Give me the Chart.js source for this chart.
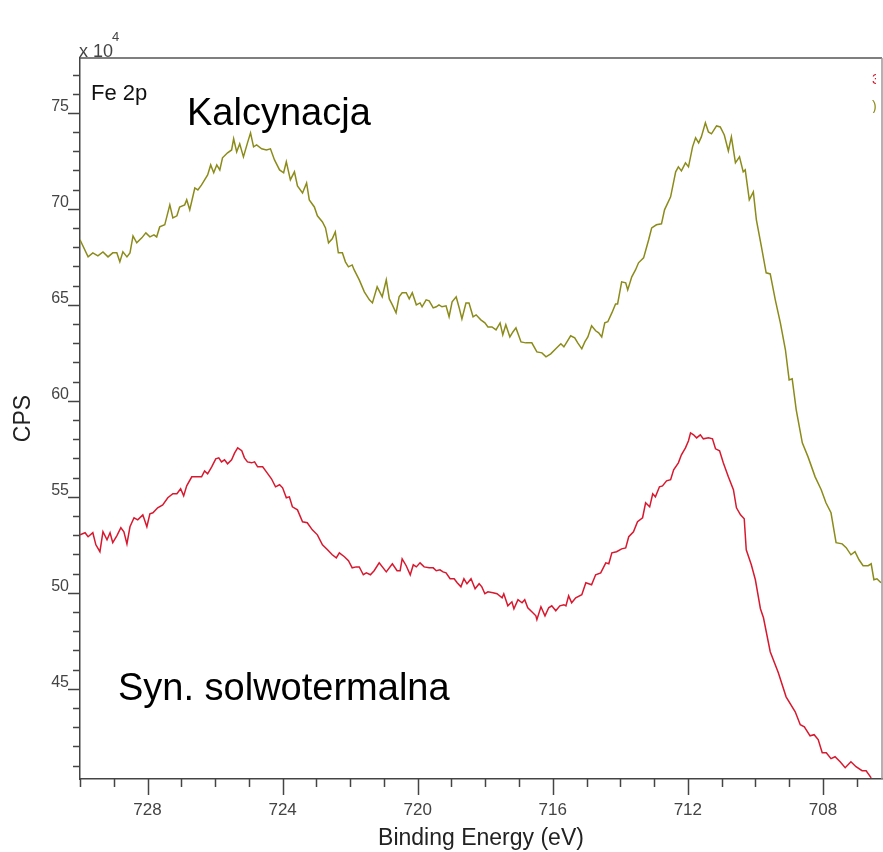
<!DOCTYPE html>
<html>
<head>
<meta charset="utf-8">
<script src="https://cdn.jsdelivr.net/npm/chart.js@4.4.1/dist/chart.umd.min.js"></script>
<style>
  body { margin: 0; background: #fff; }
  #wrap { position: relative; width: 883px; height: 852px; }
  .note { position: absolute; font-family: 'Liberation Sans', Arial, sans-serif; line-height: 1; white-space: nowrap; }
</style>
</head>
<body>
<div id="wrap">
  <canvas id="myChart" width="883" height="852"></canvas>
  <div class="note" style="left:79px;top:42px;font-size:18px;color:#444">x 10</div>
  <div class="note" style="left:112px;top:30px;font-size:13px;color:#444">4</div>
  <div class="note" style="left:91px;top:82px;font-size:22px;color:#111">Fe 2p</div>
  <div class="note" style="left:187px;top:93px;font-size:38px;color:#000">Kalcynacja</div>
  <div class="note" style="left:118px;top:668px;font-size:38px;color:#000">Syn. solwotermalna</div>
  <div class="note" style="left:872px;top:72px;font-size:14px;color:#d8182e;width:4px;overflow:hidden">3</div>
  <div class="note" style="left:872px;top:99px;font-size:14px;color:#8b8b1a;width:4px;overflow:hidden">)</div>
</div>
<script>
// Fe 2p, binding energy (eV) and counts (x 10^4 CPS)
let kalcE = [
  730.00, 729.76, 729.62, 729.47, 729.32, 729.17, 729.03, 728.91, 728.82, 728.73,
  728.61, 728.52, 728.43, 728.32, 728.17, 728.05, 727.93, 727.81, 727.73, 727.64,
  727.49, 727.34, 727.25, 727.13, 727.05, 726.90, 726.84, 726.75, 726.60, 726.51,
  726.40, 726.31, 726.22, 726.13, 726.04, 725.95, 725.86, 725.78, 725.63, 725.51,
  725.45, 725.36, 725.27, 725.16, 725.04, 724.95, 724.86, 724.77, 724.62, 724.48,
  724.36, 724.24, 724.09, 723.97, 723.89, 723.77, 723.65, 723.56, 723.41, 723.29,
  723.21, 723.06, 722.97, 722.82, 722.73, 722.64, 722.53, 722.44, 722.35, 722.23,
  722.14, 722.05, 721.94, 721.88, 721.73, 721.58, 721.43, 721.34, 721.20, 721.05,
  720.93, 720.84, 720.75, 720.64, 720.55, 720.46, 720.34, 720.25, 720.16, 720.04,
  719.93, 719.87, 719.75, 719.66, 719.54, 719.45, 719.37, 719.28, 719.16, 719.07,
  718.98, 718.86, 718.77, 718.69, 718.57, 718.48, 718.36, 718.27, 718.13, 718.01,
  717.92, 717.80, 717.68, 717.56, 717.48, 717.39, 717.27, 717.18, 717.09, 716.94,
  716.80, 716.62, 716.47, 716.32, 716.20, 716.06, 715.91, 715.76, 715.67, 715.58,
  715.47, 715.35, 715.26, 715.14, 715.05, 714.96, 714.85, 714.73, 714.64, 714.55,
  714.46, 714.37, 714.25, 714.14, 714.08, 713.96, 713.84, 713.78, 713.66, 713.55,
  713.46, 713.31, 713.16, 713.07, 712.93, 712.78, 712.69, 712.51, 712.36, 712.28,
  712.19, 712.07, 711.98, 711.86, 711.77, 711.68, 711.60, 711.48, 711.39, 711.30,
  711.15, 711.04, 710.92, 710.80, 710.71, 710.59, 710.47, 710.36, 710.30, 710.18,
  710.06, 709.97, 709.82, 709.68, 709.56, 709.41, 709.26, 709.11, 709.00, 708.91,
  708.79, 708.61, 708.44, 708.23, 708.05, 707.91, 707.76, 707.61, 707.43, 707.31,
  707.17, 707.05, 706.93, 706.81, 706.66, 706.57, 706.49, 706.40, 706.28
];
let kalcCps = [
  68.39, 67.50, 67.71, 67.55, 67.76, 67.50, 67.71, 67.71, 67.24, 67.76,
  67.50, 67.71, 68.59, 68.23, 68.49, 68.75, 68.54, 68.65, 68.54, 69.06,
  69.17, 70.21, 69.53, 69.64, 70.10, 70.21, 70.47, 69.95, 71.09, 70.99,
  71.25, 71.51, 71.77, 72.29, 71.88, 72.29, 72.03, 72.66, 72.92, 73.07,
  73.65, 72.97, 73.39, 72.71, 73.44, 73.96, 73.23, 73.33, 73.13, 73.07,
  73.13, 72.55, 72.03, 71.88, 72.45, 71.51, 71.93, 71.20, 70.83, 71.35,
  70.47, 70.10, 69.64, 69.32, 69.01, 68.23, 68.44, 68.80, 67.71, 67.71,
  67.24, 66.98, 67.08, 66.82, 66.30, 65.68, 65.26, 65.10, 65.94, 65.42,
  66.30, 65.31, 65.00, 64.58, 65.42, 65.63, 65.63, 65.31, 65.63, 65.00,
  65.10, 64.90, 65.26, 65.21, 64.84, 64.90, 65.00, 64.90, 64.95, 64.38,
  65.16, 65.42, 64.84, 64.27, 65.10, 65.10, 64.38, 64.48, 64.22, 64.06,
  63.85, 63.85, 63.70, 64.06, 63.44, 63.96, 63.33, 63.59, 63.80, 63.07,
  63.02, 63.02, 62.55, 62.50, 62.29, 62.45, 62.71, 62.97, 62.81, 63.07,
  63.39, 63.28, 63.02, 62.71, 63.07, 63.33, 63.91, 63.65, 63.54, 63.33,
  64.06, 64.12, 64.58, 65.05, 65.05, 66.20, 66.15, 65.78, 66.46, 66.82,
  67.19, 67.45, 68.39, 69.01, 69.17, 69.22, 69.95, 70.63, 71.93, 72.19,
  71.98, 72.40, 72.19, 73.23, 73.70, 73.44, 73.75, 74.48, 74.01, 73.91,
  74.32, 74.27, 73.85, 73.02, 73.75, 72.40, 72.71, 71.93, 72.03, 70.47,
  70.89, 69.43, 68.02, 66.67, 66.61, 65.26, 64.06, 62.66, 61.09, 61.15,
  59.53, 57.81, 57.08, 56.04, 55.37, 54.69, 54.17, 52.61, 52.55, 52.35,
  51.98, 52.14, 51.72, 51.41, 51.41, 51.51, 50.68, 50.73, 50.52
];

let solwoE = [
  730.00, 729.85, 729.76, 729.62, 729.53, 729.41, 729.32, 729.20, 729.11, 729.03,
  728.91, 728.79, 728.70, 728.61, 728.52, 728.40, 728.29, 728.14, 728.02, 727.93,
  727.84, 727.70, 727.55, 727.40, 727.25, 727.13, 727.02, 726.93, 726.84, 726.69,
  726.54, 726.40, 726.31, 726.22, 726.10, 725.98, 725.89, 725.81, 725.72, 725.63,
  725.51, 725.42, 725.33, 725.21, 725.13, 725.04, 724.92, 724.83, 724.74, 724.59,
  724.48, 724.33, 724.21, 724.09, 724.00, 723.89, 723.80, 723.71, 723.56, 723.41,
  723.27, 723.12, 722.97, 722.82, 722.67, 722.53, 722.41, 722.32, 722.17, 722.05,
  721.94, 721.82, 721.73, 721.61, 721.52, 721.40, 721.29, 721.14, 720.93, 720.75,
  720.61, 720.52, 720.46, 720.34, 720.22, 720.13, 720.04, 719.93, 719.81, 719.66,
  719.54, 719.45, 719.34, 719.25, 719.16, 719.04, 718.92, 718.83, 718.72, 718.63,
  718.54, 718.42, 718.30, 718.18, 718.10, 718.01, 717.92, 717.77, 717.65, 717.50,
  717.45, 717.33, 717.21, 717.15, 717.03, 716.91, 716.83, 716.74, 716.62, 716.50,
  716.47, 716.35, 716.23, 716.12, 716.03, 715.91, 715.79, 715.67, 715.61, 715.53,
  715.44, 715.32, 715.14, 715.02, 714.85, 714.73, 714.58, 714.43, 714.34, 714.25,
  714.11, 713.96, 713.84, 713.75, 713.61, 713.49, 713.34, 713.25, 713.13, 713.04,
  712.96, 712.84, 712.75, 712.63, 712.51, 712.42, 712.28, 712.19, 712.07, 711.98,
  711.92, 711.83, 711.74, 711.63, 711.54, 711.39, 711.27, 711.18, 711.06, 710.95,
  710.80, 710.65, 710.56, 710.44, 710.33, 710.27, 710.12, 710.00, 709.85, 709.76,
  709.56, 709.32, 709.09, 708.82, 708.67, 708.55, 708.38, 708.26, 708.14, 708.02,
  707.90, 707.76, 707.64, 707.49, 707.34, 707.17, 707.02, 706.84, 706.72, 706.57
];
let solwoCps = [
  53.02, 53.13, 52.92, 53.13, 52.50, 52.14, 53.18, 52.76, 53.13, 52.61,
  52.97, 53.39, 53.18, 52.55, 53.44, 53.91, 53.80, 54.06, 53.44, 54.12,
  54.17, 54.43, 54.58, 54.95, 55.16, 55.16, 55.42, 55.05, 55.57, 56.04,
  56.04, 56.04, 56.35, 56.20, 56.56, 56.98, 57.03, 56.82, 56.93, 56.72,
  56.93, 57.29, 57.55, 57.40, 57.03, 56.82, 56.77, 56.82, 56.56, 56.56,
  56.30, 55.94, 55.52, 55.63, 55.47, 54.95, 55.00, 54.48, 54.32, 53.70,
  53.65, 53.28, 53.02, 52.50, 52.24, 51.98, 51.82, 52.08, 51.88, 51.67,
  51.30, 51.35, 51.35, 50.94, 51.04, 50.94, 51.15, 51.56, 51.09, 51.51,
  51.15, 51.15, 51.77, 51.41, 50.94, 51.46, 51.35, 51.56, 51.35, 51.30,
  51.30, 51.15, 51.20, 51.09, 51.04, 50.73, 50.73, 50.52, 50.31, 50.73,
  50.47, 50.73, 50.21, 50.47, 50.31, 49.95, 50.05, 50.00, 49.95, 49.74,
  49.95, 49.32, 49.53, 49.17, 49.64, 49.48, 49.64, 49.22, 49.01, 48.80,
  48.60, 49.27, 48.80, 49.22, 49.32, 49.06, 49.32, 49.38, 49.32, 49.84,
  49.48, 49.74, 49.90, 50.52, 50.42, 50.94, 51.04, 51.56, 51.51, 52.08,
  52.14, 52.29, 52.34, 52.92, 53.18, 53.70, 53.91, 54.69, 54.48, 55.16,
  55.00, 55.52, 55.57, 55.83, 55.89, 56.41, 56.77, 57.19, 57.55, 57.92,
  58.33, 58.23, 58.07, 58.23, 58.02, 58.07, 58.02, 57.50, 57.40, 56.77,
  56.04, 55.37, 54.43, 54.06, 53.86, 52.24, 51.46, 50.68, 49.17, 48.70,
  46.93, 45.84, 44.58, 43.80, 43.13, 43.02, 42.55, 42.61, 42.35, 41.67,
  41.67, 41.36, 41.46, 41.20, 40.89, 41.20, 40.94, 40.73, 40.73, 40.36
];

let xMin = 706.25, xMax = 730;
let yMin = 40.3, yMax = 77.86;

function toPoints(xs, ys) {
    return xs.map((e, i) => ({ x: e, y: ys[i] }));
}

// long ticks on the labelled values, short ones in between, plus the grey frame
const tickMarks = {
    id: 'tickMarks',
    afterDraw(chart) {
        const ctx = chart.ctx;
        const a = chart.chartArea;
        const sx = chart.scales.x, sy = chart.scales.y;
        ctx.save();
        ctx.strokeStyle = '#444';
        ctx.lineWidth = 1.5;
        ctx.beginPath();
        sx.ticks.forEach(t => {
            const px = Math.round(sx.getPixelForValue(t.value)) + 0.5;
            const len = Math.round(t.value) % 4 === 0 ? 16 : 8;
            ctx.moveTo(px, a.bottom);
            ctx.lineTo(px, a.bottom + len);
        });
        sy.ticks.forEach(t => {
            const py = Math.round(sy.getPixelForValue(t.value)) + 0.5;
            const len = Math.round(t.value) % 5 === 0 ? 12 : 7;
            ctx.moveTo(a.left, py);
            ctx.lineTo(a.left - len, py);
        });
        ctx.stroke();
        ctx.lineWidth = 1.5;
        ctx.strokeStyle = '#555';
        ctx.beginPath();
        ctx.moveTo(a.left, a.top);
        ctx.lineTo(a.right, a.top);
        ctx.stroke();
        ctx.strokeStyle = '#999';
        ctx.beginPath();
        ctx.moveTo(a.right, a.top);
        ctx.lineTo(a.right, a.bottom);
        ctx.stroke();
        ctx.restore();
    }
};

var ctx = document.getElementById('myChart').getContext('2d');
var myChart = new Chart(ctx, {
    type: 'line',
    data: {
        datasets: [{
            label: 'Kalcynacja',
            data: toPoints(kalcE, kalcCps),
            borderColor: '#8b8b1a',
            borderWidth: 1.5,
            pointRadius: 0,
            fill: false
        }, {
            label: 'Syn. solwotermalna',
            data: toPoints(solwoE, solwoCps),
            borderColor: '#d8182e',
            borderWidth: 1.5,
            pointRadius: 0,
            fill: false
        }]
    },
    options: {
        responsive: false,
        animation: false,
        layout: { padding: { top: 58, right: 1, left: 0, bottom: 0 } },
        plugins: {
            legend: { display: false },
            tooltip: { enabled: false }
        },
        scales: {
            x: {
                type: 'linear',
                reverse: true,
                min: xMin,
                max: xMax,
                afterFit: s => { s.height = 73; },
                grid: { display: false, drawTicks: false },
                border: { display: true, color: '#444', width: 1.5 },
                ticks: {
                    stepSize: 1,
                    includeBounds: false,
                    autoSkip: false,
                    maxRotation: 0,
                    padding: 21,
                    color: '#444',
                    font: { family: 'Liberation Sans', size: 17 },
                    callback: v => (Math.round(v) % 4 === 0 ? String(Math.round(v)) : '')
                },
                title: {
                    display: true,
                    text: 'Binding Energy (eV)',
                    color: '#222',
                    padding: 0,
                    font: { family: 'Liberation Sans', size: 23 }
                }
            },
            y: {
                min: yMin,
                max: yMax,
                afterFit: s => { s.width = 80; },
                grid: { display: false, drawTicks: false },
                border: { display: true, color: '#444', width: 1.5 },
                ticks: {
                    stepSize: 1,
                    includeBounds: false,
                    autoSkip: false,
                    padding: 11,
                    labelOffset: -6,
                    color: '#444',
                    font: { family: 'Liberation Sans', size: 16 },
                    callback: v => (Math.round(v) % 5 === 0 ? String(Math.round(v)) : '')
                },
                title: {
                    display: true,
                    text: 'CPS',
                    color: '#222',
                    padding: { top: 10, bottom: 0 },
                    font: { family: 'Liberation Sans', size: 23 }
                }
            }
        }
    },
    plugins: [tickMarks]
});
</script>
</body>
</html>
